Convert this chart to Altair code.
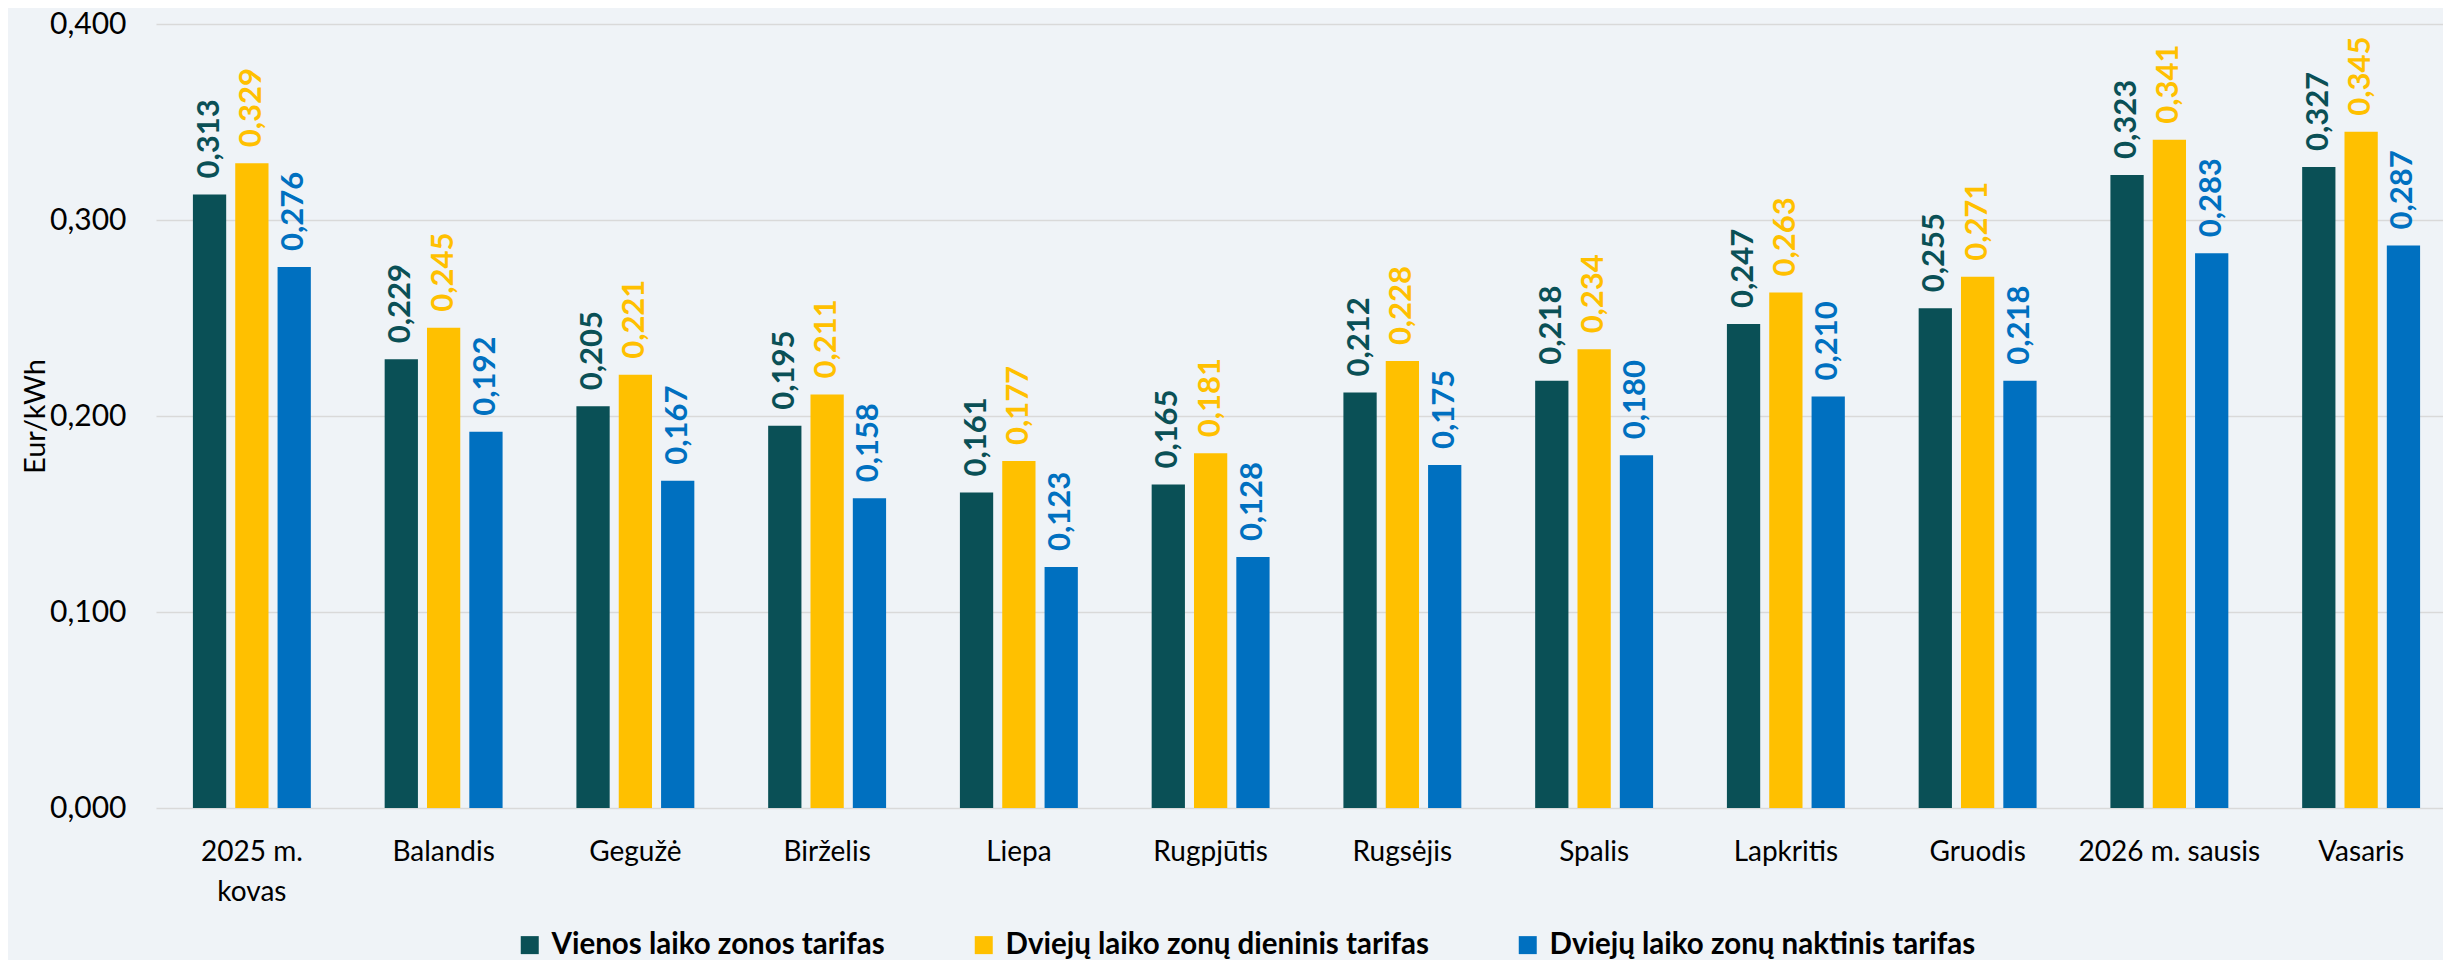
import altair as alt
import pandas as pd

months = ["2025 m. kovas", "Balandis", "Gegužė", "Birželis", "Liepa", "Rugpjūtis",
          "Rugsėjis", "Spalis", "Lapkritis", "Gruodis", "2026 m. sausis", "Vasaris"]
series = ["Vienos laiko zonos tarifas", "Dviejų laiko zonų dieninis tarifas",
          "Dviejų laiko zonų naktinis tarifas"]
vienos = [0.313, 0.229, 0.205, 0.195, 0.161, 0.165, 0.212, 0.218, 0.247, 0.255, 0.323, 0.327]
dieninis = [0.329, 0.245, 0.221, 0.211, 0.177, 0.181, 0.228, 0.234, 0.263, 0.271, 0.341, 0.345]
naktinis = [0.276, 0.192, 0.167, 0.158, 0.123, 0.128, 0.175, 0.180, 0.210, 0.218, 0.283, 0.287]
colors = ["#0A5056", "#FFC000", "#0070C0"]
y_ticks = [0.0, 0.1, 0.2, 0.3, 0.4]

rows = []
for vals, s in zip([vienos, dieninis, naktinis], series):
    for m, v in zip(months, vals):
        rows.append({"month": m, "series": s, "value": v})
df = pd.DataFrame(rows)

FONT = "Lato"
W, H = 2287, 784

x = alt.X("month:N", sort=months, title=None,
          scale=alt.Scale(range=[0, 2301], paddingInner=0.385, paddingOuter=0.1925),
          axis=alt.Axis(labelAngle=0, domain=False, ticks=False, labelPadding=30,
                        labelFontSize=28, labelFont=FONT, labelColor="#000000",
                        labelLineHeight=40, labelBaseline="top", labelLimit=0,
                        labelExpr="datum.label == '2025 m. kovas' ? ['2025 m.', 'kovas'] : datum.label"))
xo = alt.XOffset("series:N", sort=series,
                 scale=alt.Scale(paddingInner=0.214, paddingOuter=0))
color = alt.Color("series:N", sort=series,
                  scale=alt.Scale(domain=series, range=colors),
                  legend=alt.Legend(title=None, orient="none", direction="horizontal",
                                    legendX=359, legendY=906,
                                    symbolType="square", symbolSize=324,
                                    symbolStrokeWidth=0, symbolOpacity=1,
                                    labelFont=FONT, labelFontSize=29.5, labelFontWeight="bold",
                                    labelColor="#000000", labelOffset=7, columnPadding=84,
                                    labelLimit=0))

bars = alt.Chart(df).mark_bar().encode(
    x=x, xOffset=xo,
    y=alt.Y("value:Q", title="Eur/kWh",
            scale=alt.Scale(domain=[0, 0.4], nice=False),
            axis=alt.Axis(values=y_ticks, domain=False, ticks=False, labelPadding=30,
                          labelFontSize=30, labelFont=FONT, labelColor="#000000",
                          labelExpr="replace(format(datum.value, '.3f'), '.', ',')",
                          gridColor="#D9D9D9", gridWidth=1.5,
                          titleFont=FONT, titleFontSize=29, titleFontWeight="normal",
                          titleColor="#000000", titleAngle=270, titleAlign="center",
                          titleBaseline="middle", titleX=-121, titleY=392)),
    color=color,
)

labels = alt.Chart(df).transform_calculate(
    lbl="replace(format(datum.value, '.3f'), '.', ',')"
).mark_text(angle=270, align="left", baseline="middle", dx=16,
            font=FONT, fontSize=31, fontWeight="bold").encode(
    x=x, xOffset=xo,
    y=alt.Y("value:Q", scale=alt.Scale(domain=[0, 0.4], nice=False)),
    text="lbl:N",
    color=alt.Color("series:N", sort=series, scale=alt.Scale(domain=series, range=colors), legend=None),
)

chart = alt.layer(bars, labels).properties(
    width=W, height=H,
    autosize=alt.AutoSizeParams(type="none"),
    padding={"left": 148, "top": 16, "right": 0, "bottom": 152},
    background="#EFF3F7",
).configure_view(stroke=None)

chart.save("out.html", embed_options={"renderer": "svg", "actions": False})
